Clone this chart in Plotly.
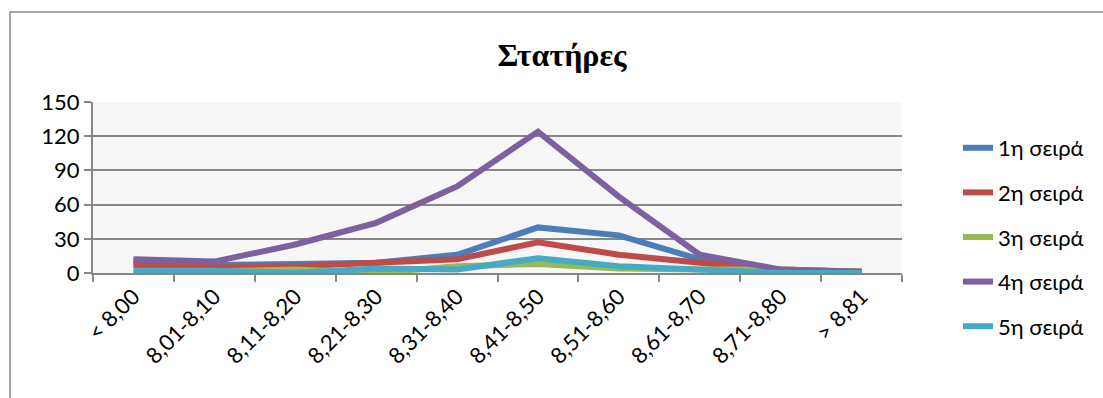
import plotly.graph_objects as go

categories = ["< 8,00", "8,01-8,10", "8,11-8,20", "8,21-8,30", "8,31-8,40",
              "8,41-8,50", "8,51-8,60", "8,61-8,70", "8,71-8,80", "> 8,81"]
series_names = ["1η σειρά", "2η σειρά", "3η σειρά", "4η σειρά", "5η σειρά"]
s1 = [10, 7, 8, 9, 16, 40, 33, 12, 2, 1]
s2 = [7, 5, 6, 9, 12, 27, 16, 9, 3, 1]
s3 = [0, 2, 3, 0, 6, 8, 4, 3, 3, 1]
s4 = [12, 10, 25, 44, 76, 124, 67, 16, 3, 1]
s5 = [2, 2, 0, 4, 3, 13, 6, 3, 0, 0]
series_values = [s1, s2, s3, s4, s5]
colors = ["#4A7EBB", "#BE4B48", "#98B954", "#7D60A0", "#46AAC5"]
y_ticks = [0, 30, 60, 90, 120, 150]

fig = go.Figure()
for i, (name, vals) in enumerate(zip(series_names, series_values)):
    fig.add_trace(go.Scatter(
        x=categories, y=vals, name=name, mode="lines",
        line=dict(color=colors[i], width=6),
        legendgroup=name,
    ))

W, H = 1103, 398
L, R, T, B = 93, 201, 102, 125
PW, PH = W - L - R, H - T - B
fig.update_layout(
    width=W, height=H,
    margin=dict(l=L, r=R, t=T, b=B, autoexpand=False),
    paper_bgcolor="white",
    plot_bgcolor="#F7F7F7",
    font=dict(family="Lato, Open Sans, sans-serif", size=22, color="black"),
    title=dict(text="<b>Στατήρες</b>", x=(562 - L) / PW, xref="paper", xanchor="center",
               y=1 - 55 / H, yanchor="middle",
               font=dict(family="Liberation Serif, serif", size=32, color="black")),
    showlegend=True,
    legend=dict(x=(958 - L) / PW, xanchor="left", y=(H - B - 237) / PH, yanchor="middle",
                traceorder="grouped", tracegroupgap=13, itemwidth=30, maxheight=320,
                font=dict(size=22), bgcolor="rgba(0,0,0,0)"),
    xaxis=dict(type="category", tickangle=-45, showgrid=False,
               showline=True, linecolor="#878787", linewidth=2,
               ticks="outside", tickson="boundaries", ticklen=7, tickcolor="#878787", tickwidth=2,
               range=[-0.5, 9.5], tickfont=dict(size=22)),
    yaxis=dict(range=[0, 150], tickvals=y_ticks, showgrid=True, gridcolor="#878787", gridwidth=2,
               showline=True, linecolor="#878787", linewidth=2, zeroline=False,
               ticks="outside", ticklen=7, tickcolor="#878787", tickwidth=2,
               tickfont=dict(size=22)),
    shapes=[dict(type="rect", xref="paper", yref="paper",
                 x0=(10 - L) / PW, x1=1.5,
                 y0=-2, y1=(H - B - 12) / PH,
                 line=dict(color="#8C8C8C", width=1.5), fillcolor="rgba(0,0,0,0)", layer="below")],
)

fig.write_html("out.html", config={"displayModeBar": False},
               post_script="document.body.style.margin='0';document.body.style.overflow='hidden';")
